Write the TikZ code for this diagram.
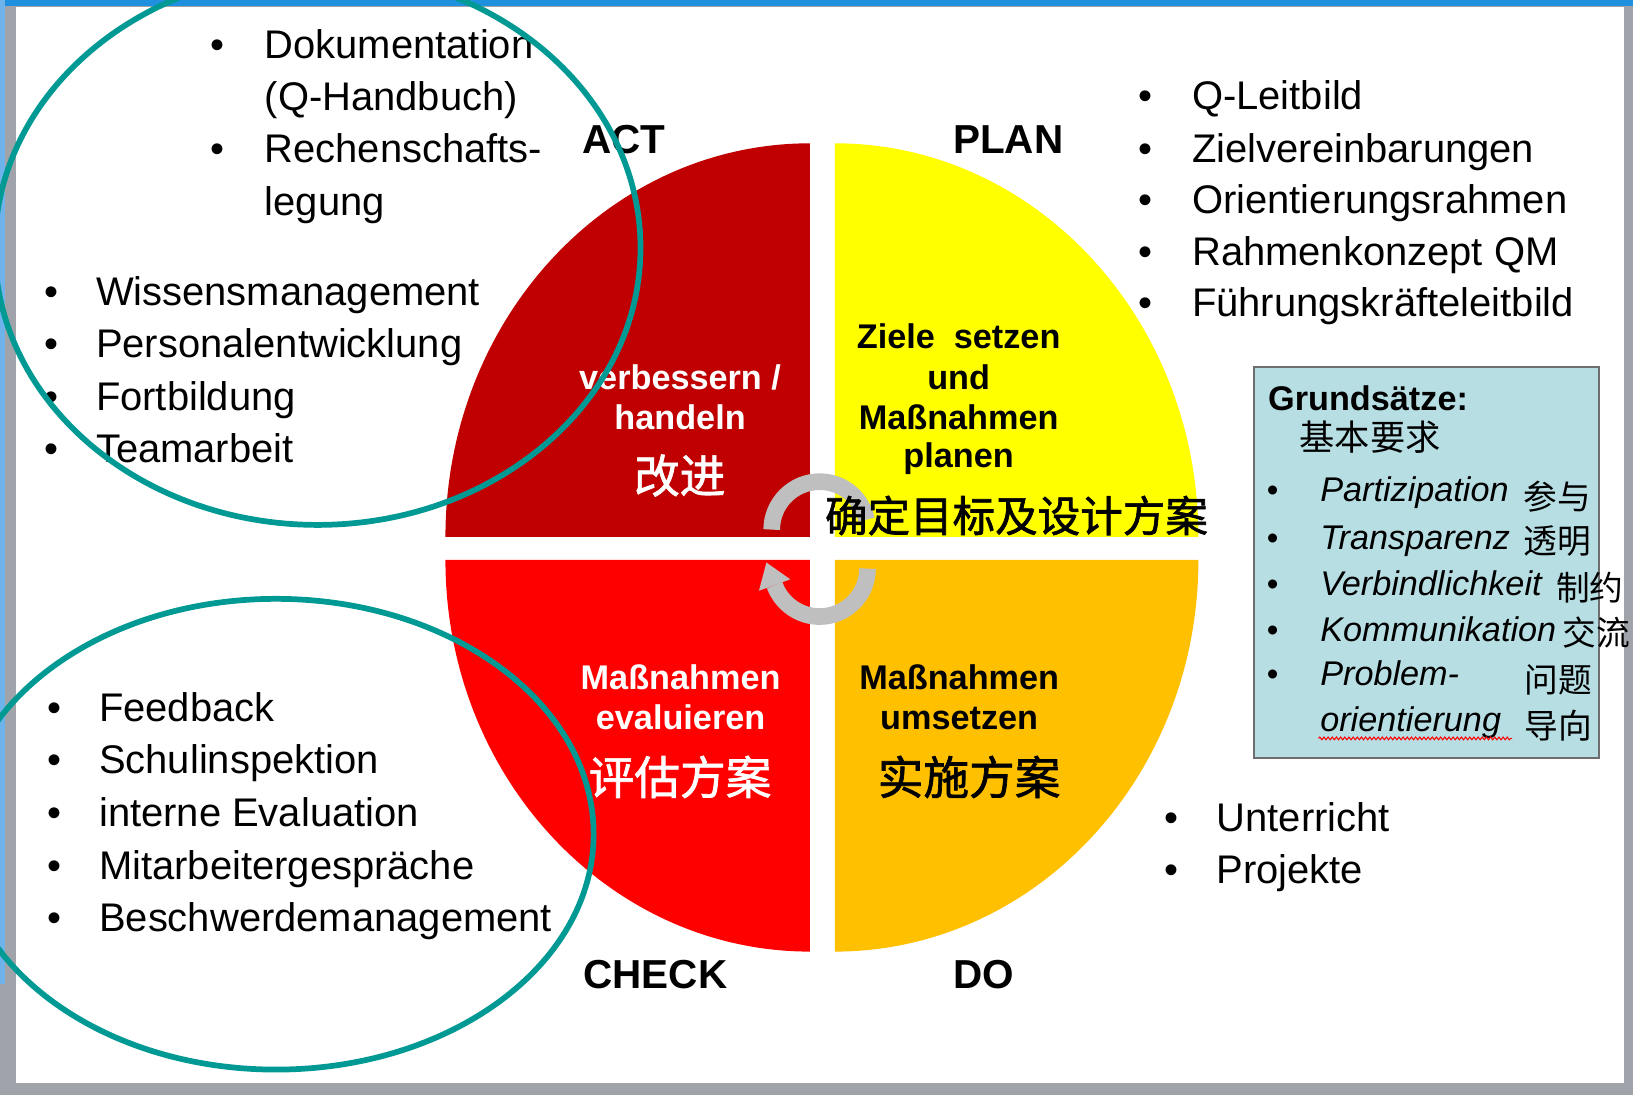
\documentclass[tikz,border=0pt]{standalone}
\usepackage{fontspec}
\setmainfont{Liberation Sans}
\newfontfamily\cjk{Noto Sans CJK SC}
\newfontfamily\cjkb[FakeBold=1.5]{Noto Sans CJK SC}
\usetikzlibrary{calc,decorations.pathmorphing}
\definecolor{actred}{RGB}{192,0,0}
\definecolor{planyellow}{RGB}{255,255,0}
\definecolor{checkred}{RGB}{255,0,0}
\definecolor{doorange}{RGB}{255,192,0}
\definecolor{teal2}{RGB}{0,153,148}
\definecolor{arrowgray}{RGB}{191,191,191}
\definecolor{boxfill}{RGB}{183,222,227}
\definecolor{boxline}{RGB}{110,110,110}
\definecolor{topblue}{RGB}{30,144,222}
\definecolor{sideblue}{RGB}{110,180,235}
\definecolor{framegray}{RGB}{160,164,170}
\tikzset{
 lst/.style={font=\fontsize{38.5}{46}\selectfont, inner sep=0pt, anchor=base west},
 bul/.style={font=\fontsize{38.5}{46}\selectfont, inner sep=0pt, anchor=base},
 phase/.style={font=\fontsize{39}{46}\selectfont\bfseries, inner sep=0pt, anchor=base west},
 qtxt/.style={font=\fontsize{33}{38}\selectfont\bfseries, inner sep=0pt, anchor=base},
 qcjk/.style={font=\fontsize{44}{50}\selectfont\cjkb, inner sep=0pt},
 gitem/.style={font=\fontsize{33}{38}\selectfont\itshape, inner sep=0pt, anchor=base west},
 gbul/.style={font=\fontsize{32}{38}\selectfont, inner sep=0pt, anchor=base},
 gcjk/.style={font=\fontsize{32.5}{36}\selectfont\cjk, inner sep=0pt, anchor=west},
 ring/.style={draw=teal2, line width=5.5bp},
 band/.style={draw=arrowgray, line width=16bp},
}
\begin{document}
\begin{tikzpicture}[x=1bp,y=-1bp]
\useasboundingbox (0,0) rectangle (1568,1051);
\clip (0,0) rectangle (1568,1051);
% frame
\fill[framegray] (0,0) rectangle (1568,1051);
\fill[white] (15,7) rectangle (1559,1040);
\fill[topblue] (0,0) rectangle (1568,6);
\fill[sideblue] (0,0) rectangle (5,945);
% quadrants
\fill[actred] (777.7,515.6) -- +(-350,0) arc[start angle=180, end angle=90, x radius=350bp, y radius=378bp] -- cycle;
\fill[planyellow] (801.7,515.6) -- +(349,0) arc[start angle=0, end angle=90, x radius=349bp, y radius=378bp] -- cycle;
\fill[checkred] (777.7,537.7) -- +(-350,0) arc[start angle=180, end angle=270, x radius=350bp, y radius=376bp] -- cycle;
\fill[doorange] (801.7,537.7) -- +(349,0) arc[start angle=0, end angle=-90, x radius=349bp, y radius=376bp] -- cycle;
% circular arrows
\coordinate (c1) at (787,508.5);
\coordinate (c2) at (787,546);
\draw[band] ($(c1)+(180:46bp)$) arc[start angle=180, end angle=12, radius=46bp];
\draw[band] ($(c2)+(0:46bp)$) arc[start angle=360, end angle=200, radius=46bp];
\coordinate (lp) at ($(c2)+(200:46bp)$);
\fill[arrowgray] ($(lp)+(200:16bp)$) -- ($(lp)+(110:23bp)$) -- ($(lp)+(20:16bp)$) -- cycle;
% phase labels
\node[phase] (act) at (559,147) {ACT};
\node[phase] (plan) at (915,147) {PLAN};
\node[phase] (check) at (560,949) {CHECK};
\node[phase] (do) at (915,949) {DO};
% quadrant texts
\node[qtxt, text=white] (a1) at (653,373.6) {verbessern /};
\node[qtxt, text=white] (a2) at (653,412) {handeln};
\node[qcjk, text=white] (a3) at (652.7,456.6) {改进};
\node[qtxt] (p1) at (920.5,335) {Ziele\ \ setzen};
\node[qtxt] (p2) at (920.5,373.6) {und};
\node[qtxt] (p3) at (920.5,412) {Maßnahmen};
\node[qtxt] (p4) at (920.5,449) {planen};
\node[qcjk, font=\fontsize{41}{46}\selectfont\cjkb] (p5) at (976,495) {确定目标及设计方案};
\node[qtxt, text=white] (c1t) at (653.5,662.5) {Maßnahmen};
\node[qtxt, text=white] (c2t) at (653.5,700.3) {evaluieren};
\node[qcjk, text=white] (c3t) at (653,746) {评估方案};
\node[qtxt] (d1) at (921,662.5) {Maßnahmen};
\node[qtxt] (d2) at (921,700.3) {umsetzen};
\node[qcjk] (d3) at (930.5,746) {实施方案};
% top-left lists
\node[bul] (tlb1) at (209,56) {•};
\node[lst] (tl1) at (254,56) {Dokumentation};
\node[lst] (tl2) at (254,106.5) {(Q-Handbuch)};
\node[bul] (tlb3) at (209,156) {•};
\node[lst] (tl3) at (254,156) {Rechenschafts-};
\node[lst] (tl4) at (254,207) {legung};
\node[bul] (wb1) at (49,293) {•};
\node[lst] (w1) at (92,293) {Wissensmanagement};
\node[bul] (wb2) at (49,343) {•};
\node[lst] (w2) at (92,343) {Personalentwicklung};
\node[bul] (wb3) at (49,394) {•};
\node[lst] (w3) at (92,394) {Fortbildung};
\node[bul] (wb4) at (49,444) {•};
\node[lst] (w4) at (92,444) {Teamarbeit};
% bottom-left list
\node[bul] (fb1) at (52,693) {•};
\node[lst] (f1) at (95,693) {Feedback};
\node[bul] (fb2) at (52,743) {•};
\node[lst] (f2) at (95,743) {Schulinspektion};
\node[bul] (fb3) at (52,794) {•};
\node[lst] (f3) at (95,794) {interne Evaluation};
\node[bul] (fb4) at (52,844) {•};
\node[lst] (f4) at (95,844) {Mitarbeitergespräche};
\node[bul] (fb5) at (52,894) {•};
\node[lst] (f5) at (95,894) {Beschwerdemanagement};
% top-right list
\node[bul] (qb1) at (1100,105) {•};
\node[lst] (q1) at (1144.5,105) {Q-Leitbild};
\node[bul] (qb2) at (1100,156) {•};
\node[lst] (q2) at (1144.5,156) {Zielvereinbarungen};
\node[bul] (qb3) at (1100,205) {•};
\node[lst] (q3) at (1144.5,205) {Orientierungsrahmen};
\node[bul] (qb4) at (1100,255) {•};
\node[lst] (q4) at (1144.5,255) {Rahmenkonzept QM};
\node[bul] (qb5) at (1100,304) {•};
\node[lst] (q5) at (1144.5,304) {Führungskräfteleitbild};
% bottom-right list
\node[bul] (ub1) at (1125,798) {•};
\node[lst] (u1) at (1168,798) {Unterricht};
\node[bul] (ub2) at (1125,848) {•};
\node[lst] (u2) at (1168,848) {Projekte};
% Grundsaetze box
\node[draw=boxline, line width=2bp, fill=boxfill, minimum width=331bp, minimum height=376bp, anchor=north west, inner sep=0pt] (gbox) at (1203,351) {};
\node[font=\fontsize{33}{38}\selectfont\bfseries, inner sep=0pt, anchor=base west] (gt) at (1217.5,393.7) {Grundsätze:};
\node[font=\fontsize{34}{38}\selectfont\cjk, inner sep=0pt] (gc) at (1315.5,420) {基本要求};
\node[gbul] (gb1) at (1222,482) {•};
\node[gitem] (g1) at (1267.5,482) {Partizipation};
\node[gcjk] (gz1) at (1463,477) {参与};
\node[gbul] (gb2) at (1222,528) {•};
\node[gitem] (g2) at (1267.5,528) {Transparenz};
\node[gcjk] (gz2) at (1463,520) {透明};
\node[gbul] (gb3) at (1222,571.5) {•};
\node[gitem] (g3) at (1267.5,571.5) {Verbindlichkeit};
\node[gcjk] (gz3) at (1494,564) {制约};
\node[gbul] (gb4) at (1222,616) {•};
\node[gitem] (g4) at (1267.5,616) {Kommunikation};
\node[gcjk] (gz4) at (1500,607) {交流};
\node[gbul] (gb5) at (1222,658) {•};
\node[gitem] (g5) at (1267.5,658) {Problem-};
\node[gcjk] (gz5) at (1464,653) {问题};
\node[gitem] (g6) at (1267.5,702.6) {orientierung};
\node[gcjk] (gz6) at (1464,697) {导向};
\draw[red, line width=1bp, decorate, decoration={snake, amplitude=1.3bp, segment length=4bp}] (1266,709) -- (1452,709);
% teal rings
\draw[ring] (305,238) ellipse [x radius=310bp, y radius=266bp];
\draw[ring] (265,801) ellipse [x radius=305bp, y radius=226bp];
\end{tikzpicture}
\end{document}
